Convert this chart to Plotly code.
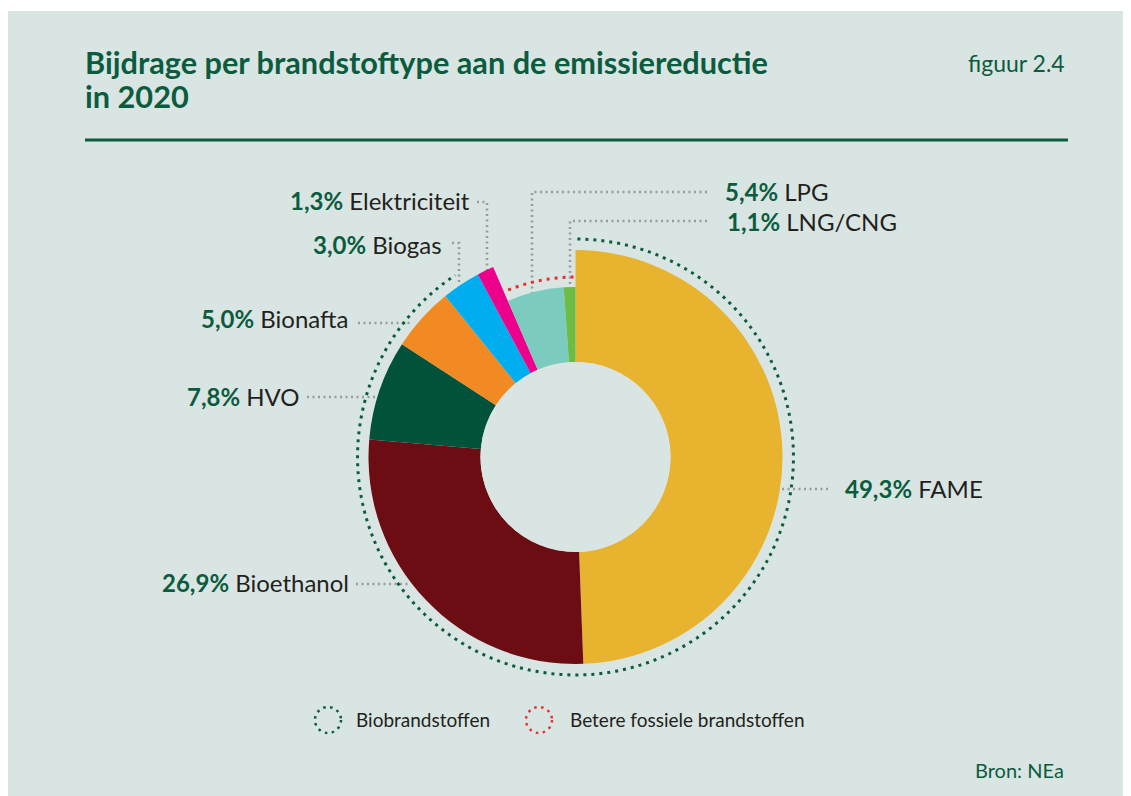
import numpy as np
import plotly.graph_objects as go

# data, clockwise from 12 o'clock
labels = ["FAME", "Bioethanol", "HVO", "Bionafta", "Biogas", "Elektriciteit", "LPG", "LNG/CNG"]
shares = [49.3, 26.9, 7.8, 5.0, 3.0, 1.3, 5.4, 1.1]
groups = ["bio", "bio", "bio", "bio", "bio", "bio", "fossiel", "fossiel"]
legend_names = ["Biobrandstoffen", "Betere fossiele brandstoffen"]

TITLE = ["Bijdrage per brandstoftype aan de emissiereductie", "in 2020"]
FIG_NO = "figuur 2.4"
SOURCE = "Bron: NEa"

# styling
BG = "#d9e5e2"
GREEN = "#0b5c3e"
DARK = "#231f20"
RED = "#e8312f"
GREY = "#9b9b9b"
FONT = "Lato"
COLORS = {
    "FAME": "#e8b32e", "Bioethanol": "#6b0d13", "HVO": "#00523a", "Bionafta": "#f28a24",
    "Biogas": "#00aeef", "Elektriciteit": "#ec008c", "LPG": "#7ccbbf", "LNG/CNG": "#6dbd45",
}
OUTER = {"bio": 1.0, "fossiel": 0.67}

W, H = 1123, 788
OX, OY = 8, 8


def px(x):
    return (x - OX) / W


def py(y):
    return 1 - (y - OY) / H


# donut geometry (screen px)
CX, CY, RP, HOLE = 575.5, 457, 225, 95
RMAX = (RP - HOLE) / (207 - HOLE)

total = sum(shares)
deg = [s / total * 360 for s in shares]
ends = np.cumsum(deg)
starts = ends - np.array(deg)
centers = starts + np.array(deg) / 2

fig = go.Figure()
fig.add_trace(go.Barpolar(
    r=[OUTER[g] for g in groups],
    theta=centers,
    width=deg,
    marker=dict(color=[COLORS[l] for l in labels], line=dict(width=0)),
    hoverinfo="skip",
    showlegend=False,
))

# dotted group arcs
bio_end = ends[groups.index("fossiel") - 1]
fos_start = starts[groups.index("fossiel")]
arcs = [
    (np.linspace(0.5, bio_end - 10, 200), 1.098, GREEN),
    (np.linspace(fos_start + 1.5, 359.5, 80), 0.759, RED),
]
for th, rr, col in arcs:
    fig.add_trace(go.Scatterpolar(
        r=[rr] * len(th), theta=th, mode="lines",
        line=dict(color=col, width=3, dash="3px,5px"),
        hoverinfo="skip", showlegend=False,
    ))

fig.update_layout(
    polar=dict(
        domain=dict(x=[px(CX - RP), px(CX + RP)], y=[py(CY + RP), py(CY - RP)]),
        hole=HOLE / RP,
        bgcolor="rgba(0,0,0,0)",
        radialaxis=dict(visible=False, range=[0, RMAX]),
        angularaxis=dict(visible=False, rotation=90, direction="clockwise"),
    ),
)

shapes = []
annotations = []

# panel background (white strip on top)
shapes.append(dict(type="rect", xref="paper", yref="paper", x0=0, x1=1, y0=0, y1=py(11),
                   fillcolor=BG, line=dict(width=0), layer="below"))

# title block
shapes.append(dict(type="line", xref="paper", yref="paper", x0=px(85), x1=px(1068), y0=py(140), y1=py(140),
                   line=dict(color=GREEN, width=3)))
for txt, yy in zip(TITLE, [62, 96]):
    annotations.append(dict(text=f"<b>{txt}</b>", x=px(83), y=py(yy), xanchor="left", yanchor="middle",
                            font=dict(size=30.7, color=GREEN, family=FONT)))
annotations.append(dict(text=FIG_NO, x=px(1067), y=py(63), xanchor="right", yanchor="middle",
                        font=dict(size=23, color=GREEN, family=FONT)))
annotations.append(dict(text=SOURCE, x=px(1066), y=py(770), xanchor="right", yanchor="middle",
                        font=dict(size=20, color=GREEN, family=FONT)))

# slice labels and leader lines (screen px)
label_pos = {
    "FAME": (843, 488, "left"),
    "Bioethanol": (351, 582, "right"),
    "HVO": (302, 396, "right"),
    "Bionafta": (350, 318, "right"),
    "Biogas": (444, 244, "right"),
    "Elektriciteit": (472, 200, "right"),
    "LPG": (723, 191, "left"),
    "LNG/CNG": (725, 222, "left"),
}
leaders = {
    "FAME": [(782, 489), (830, 489)],
    "Bioethanol": [(356, 584), (410, 584)],
    "HVO": [(307, 397), (380, 397)],
    "Bionafta": [(358, 323), (412, 323)],
    "Biogas": [(452, 243), (459, 243), (459, 284)],
    "Elektriciteit": [(477, 202), (487, 202), (487, 270)],
    "LPG": [(707, 192), (532, 192), (532, 293)],
    "LNG/CNG": [(707, 221), (570, 221), (570, 290)],
}
for lab, val in zip(labels, shares):
    pct = f"{val:.1f}".replace(".", ",") + "%"
    x, y, anc = label_pos[lab]
    annotations.append(dict(
        text=f"<b><span style='color:{GREEN}'>{pct}</span></b> {lab}",
        x=px(x), y=py(y), xanchor=anc, yanchor="middle",
        font=dict(size=24, color=DARK, family=FONT),
    ))
    pts = leaders[lab]
    path = "M " + " L ".join(f"{px(a)},{py(b)}" for a, b in pts)
    shapes.append(dict(type="path", xref="paper", yref="paper", path=path, layer="below",
                       line=dict(color=GREY, width=2.5, dash="2px,3.5px")))

# legend
for name, col, cx, tx in zip(legend_names, [GREEN, RED], [328, 539], [354, 568]):
    shapes.append(dict(type="circle", xref="paper", yref="paper",
                       x0=px(cx - 13), x1=px(cx + 13), y0=py(720 + 13), y1=py(720 - 13),
                       line=dict(color=col, width=2.5, dash="2.5px,4.5px")))
    annotations.append(dict(text=name, x=px(tx), y=py(719), xanchor="left", yanchor="middle",
                            font=dict(size=19, color=DARK, family=FONT)))

for a in annotations:
    a.update(xref="paper", yref="paper", showarrow=False)

fig.update_layout(
    width=W, height=H,
    margin=dict(l=0, r=0, t=0, b=0),
    paper_bgcolor="white",
    plot_bgcolor=BG,
    font=dict(family=FONT),
    shapes=shapes,
    annotations=annotations,
    showlegend=False,
)

fig.write_html("out.html")
